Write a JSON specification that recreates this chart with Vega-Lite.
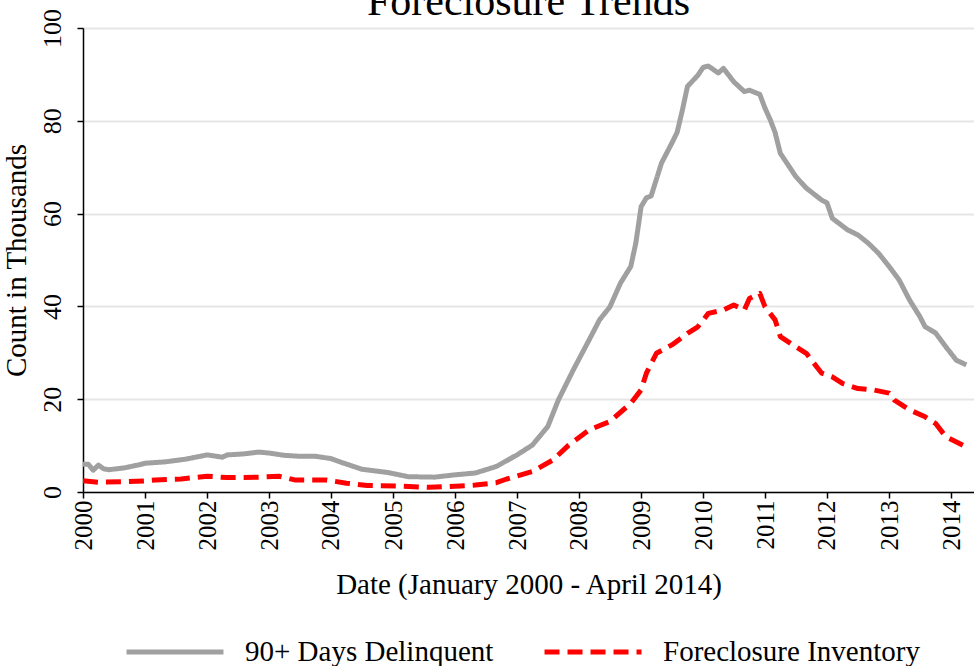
{
  "$schema": "https://vega.github.io/schema/vega-lite/v6.json",
  "width": 891,
  "height": 464,
  "autosize": {"type": "none"},
  "padding": {"top": 28, "left": 83, "right": 0, "bottom": 174},
  "background": "white",
  "title": {"text": "Foreclosure Trends", "font": "Liberation Serif", "fontSize": 42, "fontWeight": "normal", "color": "black", "anchor": "middle", "offset": -15},
  "data": {"values": [
    {"date": "2000-01-01", "series": "90+ Days Delinquent", "value": 6.0},
    {"date": "2000-02-01", "series": "90+ Days Delinquent", "value": 6.0},
    {"date": "2000-03-01", "series": "90+ Days Delinquent", "value": 4.7},
    {"date": "2000-04-01", "series": "90+ Days Delinquent", "value": 5.8},
    {"date": "2000-05-01", "series": "90+ Days Delinquent", "value": 5.0},
    {"date": "2000-06-01", "series": "90+ Days Delinquent", "value": 4.8},
    {"date": "2000-09-01", "series": "90+ Days Delinquent", "value": 5.2},
    {"date": "2000-12-01", "series": "90+ Days Delinquent", "value": 5.9},
    {"date": "2001-01-01", "series": "90+ Days Delinquent", "value": 6.2},
    {"date": "2001-05-01", "series": "90+ Days Delinquent", "value": 6.5},
    {"date": "2001-09-01", "series": "90+ Days Delinquent", "value": 7.1},
    {"date": "2002-01-01", "series": "90+ Days Delinquent", "value": 8.0},
    {"date": "2002-04-01", "series": "90+ Days Delinquent", "value": 7.5},
    {"date": "2002-05-01", "series": "90+ Days Delinquent", "value": 8.0},
    {"date": "2002-08-01", "series": "90+ Days Delinquent", "value": 8.2},
    {"date": "2002-11-01", "series": "90+ Days Delinquent", "value": 8.6},
    {"date": "2003-01-01", "series": "90+ Days Delinquent", "value": 8.4},
    {"date": "2003-04-01", "series": "90+ Days Delinquent", "value": 7.9},
    {"date": "2003-07-01", "series": "90+ Days Delinquent", "value": 7.7},
    {"date": "2003-10-01", "series": "90+ Days Delinquent", "value": 7.7},
    {"date": "2004-01-01", "series": "90+ Days Delinquent", "value": 7.2},
    {"date": "2004-03-01", "series": "90+ Days Delinquent", "value": 6.4},
    {"date": "2004-07-01", "series": "90+ Days Delinquent", "value": 4.9},
    {"date": "2004-12-01", "series": "90+ Days Delinquent", "value": 4.2},
    {"date": "2005-04-01", "series": "90+ Days Delinquent", "value": 3.3},
    {"date": "2005-09-01", "series": "90+ Days Delinquent", "value": 3.2},
    {"date": "2006-01-01", "series": "90+ Days Delinquent", "value": 3.7},
    {"date": "2006-05-01", "series": "90+ Days Delinquent", "value": 4.1},
    {"date": "2006-09-01", "series": "90+ Days Delinquent", "value": 5.5},
    {"date": "2007-01-01", "series": "90+ Days Delinquent", "value": 8.0},
    {"date": "2007-04-01", "series": "90+ Days Delinquent", "value": 10.1},
    {"date": "2007-07-01", "series": "90+ Days Delinquent", "value": 14.1},
    {"date": "2007-09-01", "series": "90+ Days Delinquent", "value": 19.8},
    {"date": "2007-12-01", "series": "90+ Days Delinquent", "value": 26.5},
    {"date": "2008-03-01", "series": "90+ Days Delinquent", "value": 32.8},
    {"date": "2008-05-01", "series": "90+ Days Delinquent", "value": 37.1},
    {"date": "2008-07-01", "series": "90+ Days Delinquent", "value": 39.9},
    {"date": "2008-09-01", "series": "90+ Days Delinquent", "value": 45.0},
    {"date": "2008-11-01", "series": "90+ Days Delinquent", "value": 48.6},
    {"date": "2008-12-01", "series": "90+ Days Delinquent", "value": 53.7},
    {"date": "2009-01-01", "series": "90+ Days Delinquent", "value": 61.5},
    {"date": "2009-02-01", "series": "90+ Days Delinquent", "value": 63.4},
    {"date": "2009-03-01", "series": "90+ Days Delinquent", "value": 63.8},
    {"date": "2009-05-01", "series": "90+ Days Delinquent", "value": 70.9},
    {"date": "2009-07-01", "series": "90+ Days Delinquent", "value": 75.2},
    {"date": "2009-08-01", "series": "90+ Days Delinquent", "value": 77.5},
    {"date": "2009-09-01", "series": "90+ Days Delinquent", "value": 82.3},
    {"date": "2009-10-01", "series": "90+ Days Delinquent", "value": 87.4},
    {"date": "2009-12-01", "series": "90+ Days Delinquent", "value": 89.8},
    {"date": "2010-01-01", "series": "90+ Days Delinquent", "value": 91.5},
    {"date": "2010-02-01", "series": "90+ Days Delinquent", "value": 91.8},
    {"date": "2010-04-01", "series": "90+ Days Delinquent", "value": 90.3},
    {"date": "2010-05-01", "series": "90+ Days Delinquent", "value": 91.3},
    {"date": "2010-07-01", "series": "90+ Days Delinquent", "value": 88.4},
    {"date": "2010-09-01", "series": "90+ Days Delinquent", "value": 86.3},
    {"date": "2010-10-01", "series": "90+ Days Delinquent", "value": 86.6},
    {"date": "2010-12-01", "series": "90+ Days Delinquent", "value": 85.7},
    {"date": "2011-01-01", "series": "90+ Days Delinquent", "value": 82.7},
    {"date": "2011-02-01", "series": "90+ Days Delinquent", "value": 80.2},
    {"date": "2011-03-01", "series": "90+ Days Delinquent", "value": 77.5},
    {"date": "2011-04-01", "series": "90+ Days Delinquent", "value": 73.0},
    {"date": "2011-07-01", "series": "90+ Days Delinquent", "value": 68.0},
    {"date": "2011-09-01", "series": "90+ Days Delinquent", "value": 65.5},
    {"date": "2011-12-01", "series": "90+ Days Delinquent", "value": 62.9},
    {"date": "2012-01-01", "series": "90+ Days Delinquent", "value": 62.3},
    {"date": "2012-02-01", "series": "90+ Days Delinquent", "value": 59.0},
    {"date": "2012-05-01", "series": "90+ Days Delinquent", "value": 56.5},
    {"date": "2012-07-01", "series": "90+ Days Delinquent", "value": 55.4},
    {"date": "2012-09-01", "series": "90+ Days Delinquent", "value": 53.6},
    {"date": "2012-11-01", "series": "90+ Days Delinquent", "value": 51.4},
    {"date": "2013-01-01", "series": "90+ Days Delinquent", "value": 48.6},
    {"date": "2013-03-01", "series": "90+ Days Delinquent", "value": 45.7},
    {"date": "2013-05-01", "series": "90+ Days Delinquent", "value": 41.4},
    {"date": "2013-07-01", "series": "90+ Days Delinquent", "value": 37.8},
    {"date": "2013-08-01", "series": "90+ Days Delinquent", "value": 35.6},
    {"date": "2013-10-01", "series": "90+ Days Delinquent", "value": 34.3},
    {"date": "2013-12-01", "series": "90+ Days Delinquent", "value": 31.3},
    {"date": "2014-02-01", "series": "90+ Days Delinquent", "value": 28.4},
    {"date": "2014-04-01", "series": "90+ Days Delinquent", "value": 27.4},
    {"date": "2000-01-01", "series": "Foreclosure Inventory", "value": 2.4},
    {"date": "2000-04-01", "series": "Foreclosure Inventory", "value": 2.1},
    {"date": "2000-09-01", "series": "Foreclosure Inventory", "value": 2.2},
    {"date": "2001-01-01", "series": "Foreclosure Inventory", "value": 2.4},
    {"date": "2001-03-01", "series": "Foreclosure Inventory", "value": 2.6},
    {"date": "2001-08-01", "series": "Foreclosure Inventory", "value": 2.8},
    {"date": "2002-01-01", "series": "Foreclosure Inventory", "value": 3.4},
    {"date": "2002-05-01", "series": "Foreclosure Inventory", "value": 3.1},
    {"date": "2002-11-01", "series": "Foreclosure Inventory", "value": 3.2},
    {"date": "2003-03-01", "series": "Foreclosure Inventory", "value": 3.4},
    {"date": "2003-06-01", "series": "Foreclosure Inventory", "value": 2.6},
    {"date": "2003-12-01", "series": "Foreclosure Inventory", "value": 2.6},
    {"date": "2004-04-01", "series": "Foreclosure Inventory", "value": 1.9},
    {"date": "2004-08-01", "series": "Foreclosure Inventory", "value": 1.4},
    {"date": "2005-02-01", "series": "Foreclosure Inventory", "value": 1.3},
    {"date": "2005-08-01", "series": "Foreclosure Inventory", "value": 1.0},
    {"date": "2006-02-01", "series": "Foreclosure Inventory", "value": 1.3},
    {"date": "2006-05-01", "series": "Foreclosure Inventory", "value": 1.5},
    {"date": "2006-09-01", "series": "Foreclosure Inventory", "value": 2.0},
    {"date": "2006-11-01", "series": "Foreclosure Inventory", "value": 2.8},
    {"date": "2007-04-01", "series": "Foreclosure Inventory", "value": 4.4},
    {"date": "2007-08-01", "series": "Foreclosure Inventory", "value": 6.9},
    {"date": "2007-11-01", "series": "Foreclosure Inventory", "value": 10.1},
    {"date": "2008-03-01", "series": "Foreclosure Inventory", "value": 13.4},
    {"date": "2008-07-01", "series": "Foreclosure Inventory", "value": 15.2},
    {"date": "2008-08-01", "series": "Foreclosure Inventory", "value": 16.2},
    {"date": "2008-11-01", "series": "Foreclosure Inventory", "value": 19.1},
    {"date": "2009-01-01", "series": "Foreclosure Inventory", "value": 22.0},
    {"date": "2009-02-01", "series": "Foreclosure Inventory", "value": 25.6},
    {"date": "2009-04-01", "series": "Foreclosure Inventory", "value": 29.9},
    {"date": "2009-07-01", "series": "Foreclosure Inventory", "value": 31.7},
    {"date": "2009-10-01", "series": "Foreclosure Inventory", "value": 34.2},
    {"date": "2009-12-01", "series": "Foreclosure Inventory", "value": 35.6},
    {"date": "2010-02-01", "series": "Foreclosure Inventory", "value": 38.5},
    {"date": "2010-05-01", "series": "Foreclosure Inventory", "value": 39.2},
    {"date": "2010-07-01", "series": "Foreclosure Inventory", "value": 40.3},
    {"date": "2010-09-01", "series": "Foreclosure Inventory", "value": 39.2},
    {"date": "2010-10-01", "series": "Foreclosure Inventory", "value": 41.7},
    {"date": "2010-12-01", "series": "Foreclosure Inventory", "value": 42.8},
    {"date": "2011-01-01", "series": "Foreclosure Inventory", "value": 39.9},
    {"date": "2011-03-01", "series": "Foreclosure Inventory", "value": 37.1},
    {"date": "2011-04-01", "series": "Foreclosure Inventory", "value": 33.5},
    {"date": "2011-07-01", "series": "Foreclosure Inventory", "value": 31.3},
    {"date": "2011-09-01", "series": "Foreclosure Inventory", "value": 29.9},
    {"date": "2011-11-01", "series": "Foreclosure Inventory", "value": 27.0},
    {"date": "2011-12-01", "series": "Foreclosure Inventory", "value": 25.6},
    {"date": "2012-02-01", "series": "Foreclosure Inventory", "value": 24.8},
    {"date": "2012-04-01", "series": "Foreclosure Inventory", "value": 23.4},
    {"date": "2012-07-01", "series": "Foreclosure Inventory", "value": 22.3},
    {"date": "2012-10-01", "series": "Foreclosure Inventory", "value": 22.0},
    {"date": "2013-01-01", "series": "Foreclosure Inventory", "value": 21.3},
    {"date": "2013-02-01", "series": "Foreclosure Inventory", "value": 19.8},
    {"date": "2013-05-01", "series": "Foreclosure Inventory", "value": 17.7},
    {"date": "2013-08-01", "series": "Foreclosure Inventory", "value": 16.2},
    {"date": "2013-10-01", "series": "Foreclosure Inventory", "value": 14.8},
    {"date": "2013-12-01", "series": "Foreclosure Inventory", "value": 11.9},
    {"date": "2014-04-01", "series": "Foreclosure Inventory", "value": 9.7}
  ]},
  "mark": {"type": "line", "strokeWidth": 5, "strokeCap": "butt", "strokeJoin": "round", "clip": true},
  "encoding": {
    "x": {
      "field": "date", "type": "temporal",
      "scale": {"type": "utc", "domain": [{"year": 2000, "month": 1, "date": 1, "utc": true}, {"year": 2014, "month": 5, "date": 16, "utc": true}]},
      "axis": {"title": "Date (January 2000 - April 2014)", "format": "%Y", "tickCount": {"interval": "year", "step": 1}, "labelAngle": -90, "grid": false, "titlePadding": 20, "labelPadding": 2, "labelFont": "Liberation Serif", "labelFontSize": 25}
    },
    "y": {
      "field": "value", "type": "quantitative",
      "scale": {"domain": [0, 100], "nice": false},
      "axis": {"title": "Count in Thousands", "values": [0, 20, 40, 60, 80, 100], "labelAngle": -90, "grid": true, "titlePadding": 8, "labelPadding": 12, "labelFont": "Liberation Serif", "labelFontSize": 26}
    },
    "color": {
      "field": "series", "type": "nominal",
      "scale": {"domain": ["90+ Days Delinquent", "Foreclosure Inventory"], "range": ["#a0a0a0", "#ff0000"]},
      "legend": {"title": null, "orient": "none", "direction": "horizontal", "legendX": 41, "legendY": 573, "padding": 0, "symbolType": "stroke", "symbolSize": 9400, "symbolStrokeWidth": 5, "labelFont": "Liberation Serif", "labelFontSize": 29, "labelLimit": 500, "labelColor": "black", "labelOffset": 19, "columnPadding": 40}
    },
    "strokeDash": {
      "field": "series", "type": "nominal",
      "scale": {"domain": ["90+ Days Delinquent", "Foreclosure Inventory"], "range": [[1, 0], [15, 8]]},
      "legend": {"title": null, "orient": "none", "direction": "horizontal", "legendX": 41, "legendY": 573, "padding": 0, "symbolType": "stroke", "symbolSize": 9400, "symbolStrokeWidth": 5, "labelFont": "Liberation Serif", "labelFontSize": 29, "labelLimit": 500, "labelColor": "black", "labelOffset": 19, "columnPadding": 40}
    }
  },
  "config": {
    "view": {"stroke": null},
    "axis": {"labelColor": "black", "titleFont": "Liberation Serif", "titleFontSize": 29, "titleFontWeight": "normal", "titleColor": "black", "domainColor": "black", "domainWidth": 1.5, "tickColor": "black", "tickWidth": 1.5, "tickSize": 6, "gridColor": "#e6e6e6", "gridWidth": 2}
  }
}
